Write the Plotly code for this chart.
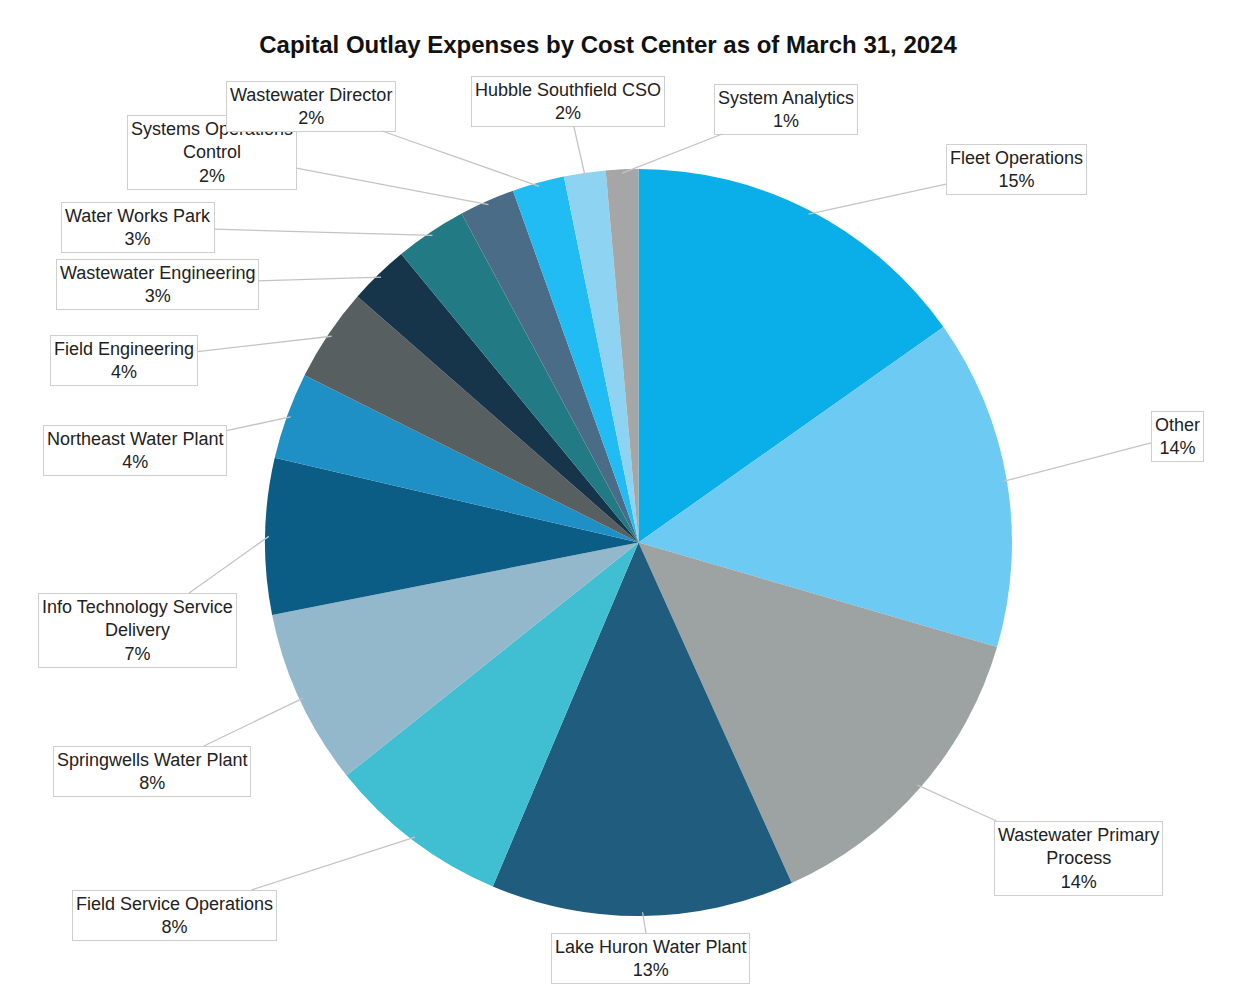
import math
import plotly.graph_objects as go

# ---- data ----
names = [
    "Fleet Operations", "Other", "Wastewater Primary<br>Process", "Lake Huron Water Plant",
    "Field Service Operations", "Springwells Water Plant", "Info Technology Service<br>Delivery",
    "Northeast Water Plant", "Field Engineering", "Wastewater Engineering", "Water Works Park",
    "Systems Operations<br>Control", "Wastewater Director", "Hubble Southfield CSO", "System Analytics",
]
values = [15.2, 14.3, 13.75, 13.1, 7.9, 7.6, 6.75, 3.75, 4.05, 2.6, 3.1, 2.4, 2.25, 1.8, 1.4]
colors = [
    "#0aaee8", "#6ccaf3", "#9da3a2", "#1f5c7e", "#3fbfd1", "#93b7cb", "#0b5d85",
    "#1e90c6", "#585f60", "#16344a", "#227a84", "#4a6c86", "#22bcf4", "#8fd3f2", "#a6a6a6",
]
# label box centres (pixels)
box_x = [1016, 1177, 1078, 650, 174, 152, 137, 135, 124, 157, 138, 212, 311, 568, 786]
box_y = [169, 436, 858, 958, 915, 771, 630, 450, 360, 284, 227, 152, 106, 101, 109]

W, H = 1253, 993
cx, cy, r = 638.5, 542.5, 373.5

fig = go.Figure()
fig.add_trace(go.Pie(
    labels=names, values=values, sort=False, direction="clockwise", rotation=0,
    marker=dict(colors=colors, line=dict(width=0)), textinfo="none", showlegend=False,
    hoverinfo="label+percent",
    domain=dict(x=[(cx - r) / W, (cx + r) / W], y=[(H - cy - r) / H, (H - cy + r) / H]),
))
# invisible pixel axes for label placement
fig.add_trace(go.Scatter(x=[0, W], y=[0, H], mode="markers", marker=dict(opacity=0), hoverinfo="skip", showlegend=False))

total = sum(values)
cum = 0.0
for i, v in enumerate(values):
    th = 2 * math.pi * (cum + v / 2) / total
    cum += v
    tx = cx + r * 0.99 * math.sin(th)
    ty = cy - r * 0.99 * math.cos(th)
    pct = round(100 * v / total)
    fig.add_annotation(
        x=tx, y=ty, xref="x", yref="y", ax=box_x[i], ay=box_y[i], axref="x", ayref="y",
        text=f"{names[i]}<br>{pct}%", showarrow=True, arrowhead=0, arrowwidth=1.3, arrowcolor="#c4c4c4",
        bgcolor="white", bordercolor="#cfcfcf", borderwidth=1, borderpad=3,
        font=dict(family="Liberation Sans, Arial, sans-serif", size=18, color="#222222"),
        align="center",
    )

fig.update_layout(
    width=W, height=H, margin=dict(l=0, r=0, t=0, b=0),
    paper_bgcolor="white", plot_bgcolor="rgba(0,0,0,0)",
    xaxis=dict(range=[0, W], visible=False, fixedrange=True),
    yaxis=dict(range=[H, 0], visible=False, fixedrange=True),
    title=dict(text="<b>Capital Outlay Expenses by Cost Center as of March 31, 2024</b>",
               x=608 / W, xanchor="center", y=1 - 45 / H, yanchor="middle",
               font=dict(family="Liberation Sans, Arial, sans-serif", size=24, color="#111111")),
)
fig.write_html("out.html", config={"displayModeBar": False},
               post_script="document.body.style.margin='0';document.body.style.overflow='hidden';")
